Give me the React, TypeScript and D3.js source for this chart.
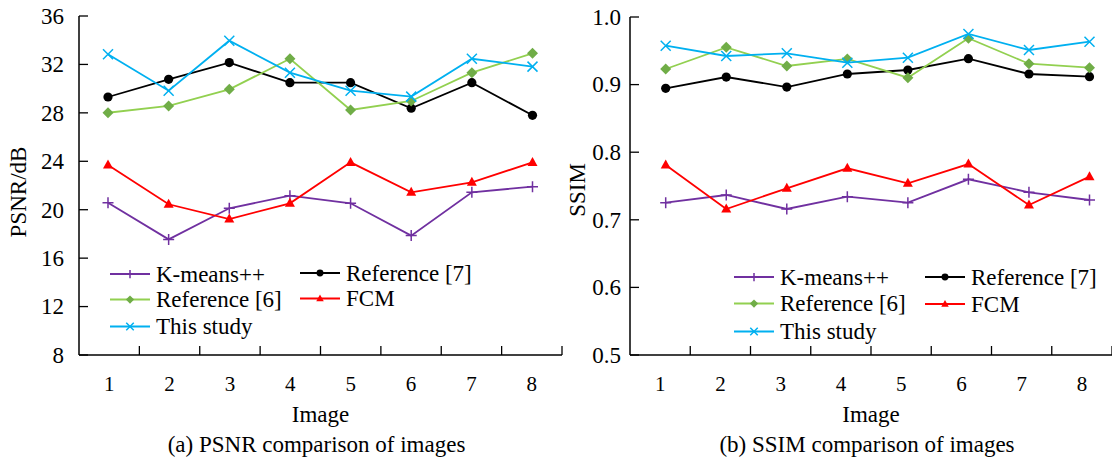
import React from 'react';
import * as d3 from 'd3';

const categories = ['1', '2', '3', '4', '5', '6', '7', '8'];

const seriesNames = ['K-means++', 'Reference [7]', 'Reference [6]', 'FCM', 'This study'];

const psnrKmeans = [20.58, 17.55, 20.12, 21.16, 20.53, 17.86, 21.44, 21.9];
const psnrRef7 = [29.31, 30.77, 32.15, 30.49, 30.49, 28.38, 30.49, 27.8];
const psnrRef6 = [28.01, 28.57, 29.94, 32.47, 28.24, 28.98, 31.32, 32.92];
const psnrFcm = [23.69, 20.45, 19.23, 20.53, 23.91, 21.44, 22.26, 23.91];
const psnrOurs = [32.84, 29.83, 33.96, 31.32, 29.83, 29.34, 32.47, 31.82];
const psnrTicks = [8, 12, 16, 20, 24, 28, 32, 36];

const ssimKmeans = [0.7253, 0.7367, 0.716, 0.7342, 0.7253, 0.7599, 0.7407, 0.7293];
const ssimRef7 = [0.8945, 0.9112, 0.8964, 0.9157, 0.9216, 0.9383, 0.9157, 0.9117];
const ssimRef6 = [0.9231, 0.9551, 0.9275, 0.9379, 0.9102, 0.9685, 0.9309, 0.925];
const ssimFcm = [0.7811, 0.716, 0.7466, 0.7762, 0.754, 0.7825, 0.7219, 0.7638];
const ssimOurs = [0.9576, 0.9423, 0.9463, 0.9324, 0.9398, 0.9749, 0.9512, 0.9635];
const ssimTicks = [0.5, 0.6, 0.7, 0.8, 0.9, 1.0];

const FONT = '"Liberation Serif", "Times New Roman", serif';

const styles = [
  { color: '#7030A0', marker: 'plus' },
  { color: '#000000', marker: 'circle' },
  { color: '#92D050', marker: 'diamond', fill: '#70AD47' },
  { color: '#FF0000', marker: 'triangle' },
  { color: '#00B0F0', marker: 'x' },
];

function Marker({ type, x, y, color, fill, s }: any) {
  const k = s;
  if (type === 'plus') {
    return <path d={`M${x - 5.5 * k},${y}H${x + 5.5 * k}M${x},${y - 5.5 * k}V${y + 5.5 * k}`} stroke={color} strokeWidth={1.5} fill="none" />;
  }
  if (type === 'circle') {
    return <circle cx={x} cy={y} r={4.6 * k} fill={color} />;
  }
  if (type === 'diamond') {
    const h = 5.5 * k;
    return <path d={`M${x},${y - h}L${x + h},${y}L${x},${y + h}L${x - h},${y}Z`} fill={fill || color} />;
  }
  if (type === 'triangle') {
    const w = 5 * k;
    return <path d={`M${x},${y - 5.5 * k}L${x + w},${y + 3.5 * k}L${x - w},${y + 3.5 * k}Z`} fill={color} />;
  }
  const h = 5 * k;
  return <path d={`M${x - h},${y - h}L${x + h},${y + h}M${x - h},${y + h}L${x + h},${y - h}`} stroke={color} strokeWidth={1.5} fill="none" />;
}

function Panel({ data, ticks, fmt, axisX0, axisX1, yTop, ptRange, yLabel, yLabelX, yLabelY, tickLabelRight, legend, caption }: any) {
  const yBottom = 355;
  const yScale = d3.scaleLinear().domain([ticks[0], ticks[ticks.length - 1]]).range([yBottom, yTop]);
  const band = d3.scaleBand().domain(categories).range([axisX0, axisX1]);
  const xPt = d3.scalePoint().domain(categories).range(ptRange);
  const line = d3.line<number>().x((_, i) => xPt(categories[i]) as number).y((v) => yScale(v));
  const center = (axisX0 + axisX1) / 2;
  const bandTicks = categories.map((c) => (band(c) as number) + band.bandwidth());

  return (
    <g>
      {/* axes */}
      <line x1={axisX0} y1={yTop} x2={axisX0} y2={yBottom} stroke="#000" strokeWidth={1.5} />
      <line x1={axisX0} y1={yBottom} x2={axisX1} y2={yBottom} stroke="#000" strokeWidth={1.5} />
      {ticks.map((t: number) => (
        <g key={t}>
          <line x1={axisX0} x2={axisX0 + 9} y1={yScale(t)} y2={yScale(t)} stroke="#000" strokeWidth={1.3} />
          <text x={tickLabelRight} y={yScale(t)} dy="0.34em" textAnchor="end" fontSize={23} fontFamily={FONT}>{fmt(t)}</text>
        </g>
      ))}
      {bandTicks.map((bx: number, i: number) => (
        <line key={i} x1={bx} x2={bx} y1={yBottom} y2={yBottom - 9} stroke="#000" strokeWidth={1.3} />
      ))}
      {categories.map((c) => (
        <text key={c} x={(band(c) as number) + band.bandwidth() / 2} y={391} textAnchor="middle" fontSize={21} fontFamily={FONT}>{c}</text>
      ))}
      <text x={center} y={422} textAnchor="middle" fontSize={23} fontFamily={FONT}>Image</text>
      <text x={center - 4} y={452} textAnchor="middle" fontSize={23} fontFamily={FONT}>{caption}</text>
      <text transform={`translate(${yLabelX},${yLabelY}) rotate(-90)`} textAnchor="middle" fontSize={23} fontFamily={FONT}>{yLabel}</text>

      {/* series */}
      {data.map((vals: number[], si: number) => {
        const st: any = styles[si];
        return (
          <g key={si}>
            <path d={line(vals) as string} fill="none" stroke={st.color} strokeWidth={1.8} />
            {vals.map((v, i) => (
              <Marker key={i} type={st.marker} x={xPt(categories[i])} y={yScale(v)} color={st.color} fill={st.fill} s={1} />
            ))}
          </g>
        );
      })}

      {/* legend */}
      {legend.map((it: any, li: number) => {
        const st: any = styles[li];
        return (
          <g key={li}>
            <line x1={it.x} x2={it.x + 40} y1={it.y} y2={it.y} stroke={st.color} strokeWidth={1.8} />
            <Marker type={st.marker} x={it.x + 20} y={it.y} color={st.color} fill={st.fill} s={0.75} />
            <text x={it.x + 46} y={it.y} dy="0.33em" fontSize={23} fontFamily={FONT}>{seriesNames[li]}</text>
          </g>
        );
      })}
    </g>
  );
}

export default function App() {
  const psnrData = [psnrKmeans, psnrRef7, psnrRef6, psnrFcm, psnrOurs];
  const ssimData = [ssimKmeans, ssimRef7, ssimRef6, ssimFcm, ssimOurs];
  return (
    <svg width={1112} height={464} style={{ position: 'absolute', left: 0, top: 0, background: '#fff' }}>
      <rect width={1112} height={464} fill="#fff" />
      <Panel
        data={psnrData}
        ticks={psnrTicks}
        fmt={(t: number) => String(t)}
        axisX0={79}
        axisX1={562}
        yTop={16}
        ptRange={[108, 532.5]}
        yLabel="PSNR/dB"
        yLabelX={26}
        yLabelY={192}
        tickLabelRight={64}
        caption="(a) PSNR comparison of images"
        legend={[
          { x: 110, y: 274 },
          { x: 300, y: 273 },
          { x: 110, y: 299.5 },
          { x: 300, y: 298.5 },
          { x: 110, y: 326.5 },
        ]}
      />
      <Panel
        data={ssimData}
        ticks={ssimTicks}
        fmt={(t: number) => t.toFixed(1)}
        axisX0={630}
        axisX1={1112}
        yTop={17}
        ptRange={[665.7, 1089.5]}
        yLabel="SSIM"
        yLabelX={585}
        yLabelY={190}
        tickLabelRight={621}
        caption="(b) SSIM comparison of images"
        legend={[
          { x: 734, y: 277 },
          { x: 925, y: 277 },
          { x: 734, y: 303.5 },
          { x: 925, y: 304 },
          { x: 734, y: 331.5 },
        ]}
      />
    </svg>
  );
}
